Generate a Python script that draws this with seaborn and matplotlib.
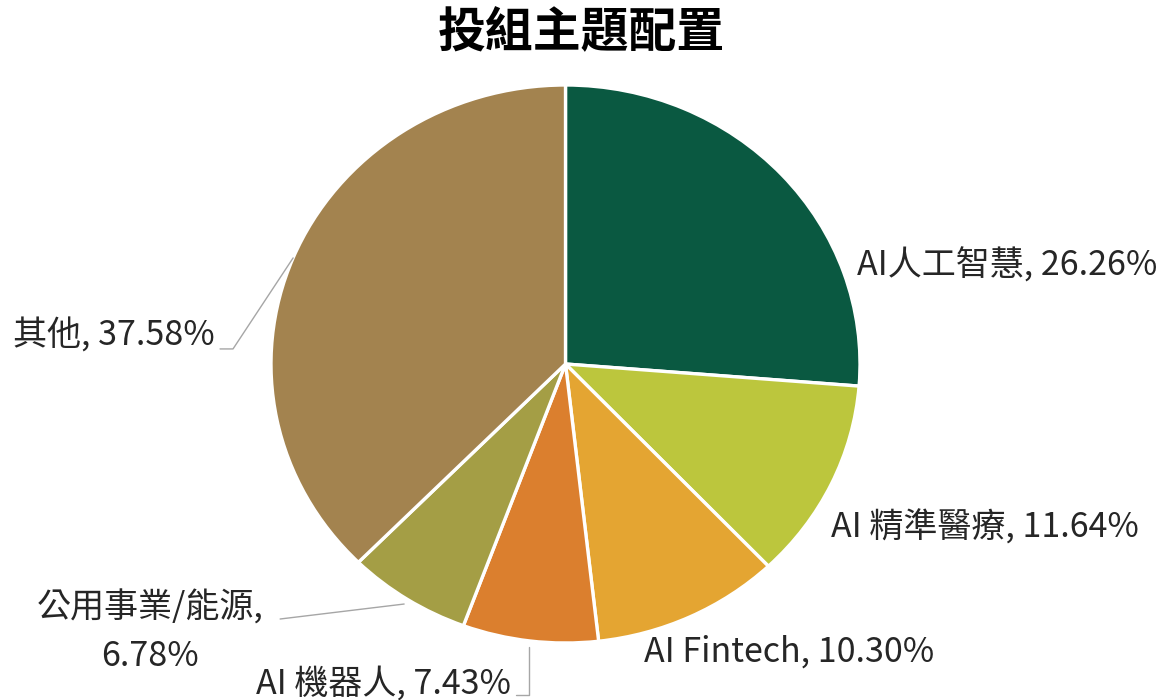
import matplotlib
matplotlib.use('Agg')
import matplotlib.pyplot as plt
import numpy as np
import seaborn as sns

temas = ['AI人工智慧', 'AI 精準醫療', 'AI Fintech', 'AI 機器人', '公用事業/能源', '其他']
pesos = [26.26, 11.64, 10.30, 7.43, 6.78, 37.58]
colores = ['#0A5941', '#BCC63D', '#E4A532', '#DB7F2E', '#A49E45', '#A3834F']

sns.set_style('white')
plt.rcParams['font.family'] = ['Noto Sans CJK TC', 'DejaVu Sans']

fig = plt.figure(figsize=(11.74, 7), dpi=100)
# la torta del original es un poco mas ancha que alta
ax = fig.add_axes([271 / 1174, 57 / 700, 589 / 1174, 558 / 700])

wedges, _ = ax.pie(pesos, colors=sns.color_palette(colores), startangle=90,
                   counterclock=False, radius=1,
                   wedgeprops=dict(edgecolor='white', linewidth=2.4))
ax.set_aspect('auto')
ax.set_xlim(-1, 1)
ax.set_ylim(-1, 1)

fs = 24.5
color_txt = '#262626'
gris = '#A6A6A6'

def punto_medio(w, r=1.0):
    ang = np.deg2rad((w.theta1 + w.theta2) / 2)
    return r * np.cos(ang), r * np.sin(ang)

etiquetas = [f'{t}, {p:.2f}%' for t, p in zip(temas, pesos)]

# etiquetas a la derecha, sin linea guia
ax.text(0.99, 0.351, etiquetas[0], fontsize=fs, ha='left', va='center', color=color_txt, clip_on=False)
ax.text(0.9, -0.588, etiquetas[1], fontsize=fs, ha='left', va='center', color=color_txt, clip_on=False)
ax.text(0.265, -1.032, etiquetas[2], fontsize=fs, ha='left', va='center', color=color_txt, clip_on=False)

# AI 機器人: linea vertical y luego corta horizontal
x0, y0 = punto_medio(wedges[3], 1.02)
ax.plot([x0, x0, x0 - 0.045], [y0, -1.186, -1.186], color=gris, lw=1, clip_on=False)
ax.text(x0 - 0.062, -1.147, etiquetas[3], fontsize=fs, ha='right', va='center', color=color_txt, clip_on=False)

# 公用事業/能源 en dos lineas
x0, y0 = punto_medio(wedges[4], 1.02)
ax.plot([x0, -0.969], [y0, -0.914], color=gris, lw=1, clip_on=False)
ax.text(-1.41, -0.961, f'{temas[4]},\n{pesos[4]:.2f}%', fontsize=fs, ha='center', va='center',
        multialignment='center', linespacing=1.5, color=color_txt, clip_on=False)

# 其他
x0, y0 = punto_medio(wedges[5], 1.0)
ax.plot([x0, -1.129, -1.173], [y0, 0.054, 0.054], color=gris, lw=1, clip_on=False)
ax.text(-1.19, 0.1, etiquetas[5], fontsize=fs, ha='right', va='center', color=color_txt, clip_on=False)

fig.text(581 / 1174, 1 - 33 / 700, '投組主題配置', fontsize=34.5, fontweight='bold',
         ha='center', va='center', color='black')

fig.savefig('out.png', dpi=100, facecolor='white')
